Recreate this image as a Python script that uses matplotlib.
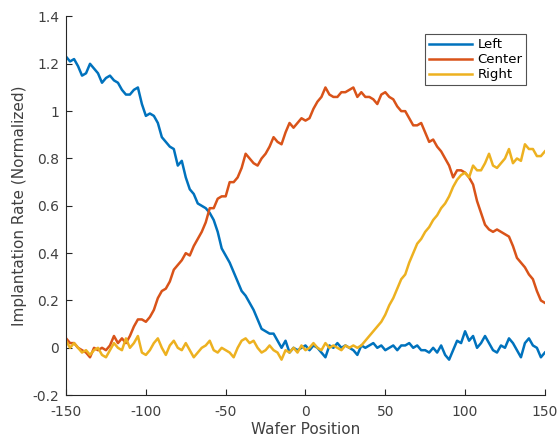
import matplotlib
matplotlib.use("Agg")
import matplotlib.pyplot as plt
import numpy as np

# wafer position, sampled every 2.5 units
position = np.arange(-150, 152.5, 2.5)

# implantation rate (normalized)
left = [1.23, 1.21, 1.22, 1.19, 1.15, 1.16, 1.20, 1.18, 1.16, 1.12,
        1.14, 1.15, 1.13, 1.12, 1.09, 1.07, 1.07, 1.09, 1.10, 1.03,
        0.98, 0.99, 0.98, 0.95, 0.89, 0.87, 0.85, 0.84, 0.77, 0.79,
        0.72, 0.67, 0.65, 0.61, 0.60, 0.59, 0.57, 0.54, 0.49, 0.42,
        0.39, 0.36, 0.32, 0.28, 0.24, 0.22, 0.19, 0.16, 0.12, 0.08,
        0.07, 0.06, 0.06, 0.03, 0.00, 0.03, -0.02, 0.00, -0.01, 0.00,
        0.01, -0.01, 0.01, 0.00, -0.02, -0.04, 0.01, 0.00, 0.02, 0.00,
        0.01, 0.00, -0.01, -0.03, 0.01, 0.00, 0.01, 0.02, 0.00, 0.01,
        -0.01, 0.00, 0.01, -0.01, 0.01, 0.01, 0.02, 0.00, 0.01, -0.01,
        -0.01, -0.02, 0.00, -0.02, 0.01, -0.03, -0.05, -0.01, 0.03, 0.02,
        0.07, 0.03, 0.05, 0.00, 0.02, 0.05, 0.02, -0.01, -0.02, 0.01,
        0.00, 0.04, 0.02, -0.01, -0.04, 0.02, 0.04, 0.01, 0.00, -0.04,
        -0.02]
center = [0.04, 0.02, 0.02, 0.00, -0.01, -0.02, -0.04, 0.00, -0.01, 0.00,
          -0.01, 0.01, 0.05, 0.02, 0.04, 0.02, 0.05, 0.09, 0.12, 0.12,
          0.11, 0.13, 0.16, 0.21, 0.24, 0.25, 0.28, 0.33, 0.35, 0.37,
          0.40, 0.39, 0.43, 0.46, 0.49, 0.53, 0.59, 0.59, 0.63, 0.64,
          0.64, 0.70, 0.70, 0.72, 0.76, 0.82, 0.80, 0.78, 0.77, 0.80,
          0.82, 0.85, 0.89, 0.87, 0.86, 0.91, 0.95, 0.93, 0.95, 0.97,
          0.96, 0.97, 1.01, 1.04, 1.06, 1.10, 1.07, 1.06, 1.06, 1.08,
          1.08, 1.09, 1.10, 1.06, 1.08, 1.06, 1.06, 1.05, 1.03, 1.07,
          1.08, 1.06, 1.05, 1.02, 1.00, 1.00, 0.97, 0.94, 0.94, 0.95,
          0.91, 0.87, 0.88, 0.85, 0.83, 0.80, 0.77, 0.72, 0.75, 0.75,
          0.74, 0.72, 0.69, 0.62, 0.57, 0.52, 0.50, 0.49, 0.50, 0.49,
          0.48, 0.47, 0.43, 0.38, 0.36, 0.34, 0.31, 0.29, 0.24, 0.20,
          0.19]
right = [0.03, 0.00, 0.02, 0.00, -0.02, -0.01, -0.03, -0.01, 0.00, -0.03,
         -0.04, -0.01, 0.02, 0.00, -0.01, 0.04, 0.00, 0.02, 0.05, -0.02,
         -0.03, -0.01, 0.02, 0.04, 0.00, -0.03, 0.01, 0.03, 0.00, -0.01,
         0.02, -0.01, -0.04, -0.02, 0.00, 0.01, 0.03, -0.01, -0.02, 0.00,
         -0.01, -0.02, -0.04, 0.00, 0.03, 0.04, 0.02, 0.03, 0.00, -0.02,
         -0.01, 0.01, -0.01, -0.02, -0.05, -0.01, -0.02, 0.00, -0.02, 0.01,
         -0.01, 0.00, 0.02, 0.00, -0.01, 0.02, 0.00, 0.01, 0.00, -0.01,
         0.01, 0.00, 0.01, 0.00, 0.01, 0.03, 0.05, 0.07, 0.09, 0.11,
         0.14, 0.18, 0.21, 0.25, 0.29, 0.31, 0.36, 0.40, 0.44, 0.46,
         0.49, 0.51, 0.54, 0.56, 0.59, 0.61, 0.64, 0.68, 0.71, 0.73,
         0.74, 0.72, 0.77, 0.75, 0.75, 0.78, 0.82, 0.77, 0.76, 0.78,
         0.80, 0.84, 0.78, 0.80, 0.79, 0.86, 0.84, 0.84, 0.81, 0.81,
         0.83]

xticks = [-150, -100, -50, 0, 50, 100, 150]
yticks = [-0.2, 0, 0.2, 0.4, 0.6, 0.8, 1, 1.2, 1.4]
ytick_labels = ["-0.2", "0", "0.2", "0.4", "0.6", "0.8", "1", "1.2", "1.4"]

axis_grey = "#262626"
text_grey = "#404040"

fig = plt.figure(figsize=(5.6, 4.45), dpi=100)
ax = fig.add_axes([0.118, 0.112, 0.855, 0.851])

ax.plot(position, left, color="#0072BD", lw=1.8, label="Left")
ax.plot(position, center, color="#D95319", lw=1.8, label="Center")
ax.plot(position, right, color="#EDB120", lw=1.8, label="Right")

ax.set_xlim(-150, 150)
ax.set_ylim(-0.2, 1.4)
ax.set_xticks(xticks)
ax.set_xticklabels([str(t) for t in xticks])
ax.set_yticks(yticks)
ax.set_yticklabels(ytick_labels)

# matlab-ish axes: no box, ticks pointing in
ax.spines["top"].set_visible(False)
ax.spines["right"].set_visible(False)
for s in ["left", "bottom"]:
    ax.spines[s].set_color(axis_grey)
    ax.spines[s].set_linewidth(0.8)
ax.tick_params(direction="in", length=4, width=0.8, color=axis_grey,
               labelcolor=text_grey, labelsize=10)
ax.tick_params(axis="x", pad=7)
ax.tick_params(axis="y", pad=5)

ax.set_xlabel("Wafer Position", fontsize=11, color=text_grey, labelpad=2)
ax.set_ylabel("Implantation Rate (Normalized)", fontsize=11, color=text_grey)

leg = ax.legend(loc="upper right", bbox_to_anchor=(0.975, 0.97), fontsize=9.5,
                fancybox=False, edgecolor=axis_grey, handlelength=3.3,
                borderpad=0.3, labelspacing=0.15, handletextpad=0.4)
leg.get_frame().set_linewidth(0.8)

plt.savefig("out.png", dpi=100)
